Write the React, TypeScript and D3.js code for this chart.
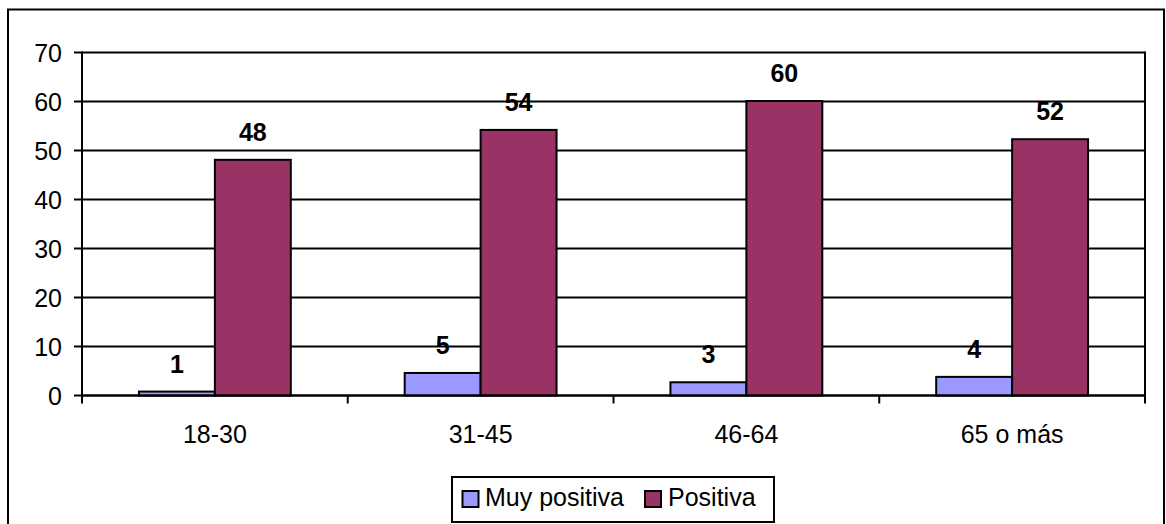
import React from "react";
import * as d3 from "d3";

const categories = ["18-30", "31-45", "46-64", "65 o más"];
const seriesNames = ["Muy positiva", "Positiva"];
const muyPositiva = [0.8, 4.6, 2.7, 3.8];
const positiva = [48.1, 54.2, 60.1, 52.3];
const yTicks = [0, 10, 20, 30, 40, 50, 60, 70];
const colors = ["#9999FF", "#993366"];

const W = 1166;
const H = 524;
const FONT = "'Liberation Sans', Arial, Helvetica, sans-serif";

export default function App() {
  const left = 82, right = 1145, top = 52.5, bottom = 395.5;
  const x = d3.scaleBand<string>().domain(categories).range([left, right]).paddingInner(0).paddingOuter(0);
  const y = d3.scaleLinear().domain([0, 70]).range([bottom, top]);
  const bw = x.bandwidth() / 3.5;
  const series = [muyPositiva, positiva];
  const fs = 25;

  return (
    <svg width={W} height={H} style={{ position: "absolute", left: 0, top: 0, background: "#fff" }} fontFamily={FONT}>
      <rect x={0} y={0} width={W} height={H} fill="#fff" />
      <rect x={8} y={9.5} width={1156} height={540} fill="none" stroke="#000" strokeWidth={2} />
      {/* gridlines */}
      {yTicks.map((t) => (
        <line key={"g" + t} x1={left} x2={right} y1={y(t)} y2={y(t)} stroke="#000" strokeWidth={2} />
      ))}
      {/* right border */}
      <line x1={right} x2={right} y1={top - 1} y2={bottom} stroke="#000" strokeWidth={2} />
      {/* bars */}
      {categories.map((c, i) =>
        series.map((s, j) => {
          const x0 = (x(c) as number) + bw * 0.75 + j * bw;
          return (
            <rect key={c + j} x={x0} y={y(s[i])} width={bw} height={y(0) - y(s[i])}
              fill={colors[j]} stroke="#000" strokeWidth={2} />
          );
        })
      )}
      {/* labels */}
      {categories.map((c, i) =>
        series.map((s, j) => {
          const x0 = (x(c) as number) + bw * 0.75 + j * bw + bw / 2;
          return (
            <text key={"l" + c + j} x={x0} y={y(s[i]) - 19} textAnchor="middle" fontSize={fs} fontWeight="bold">
              {d3.format(".0f")(s[i])}
            </text>
          );
        })
      )}
      {/* axes */}
      <line x1={left} x2={left} y1={top - 1} y2={bottom + 8} stroke="#000" strokeWidth={2} />
      <line x1={left} x2={right} y1={bottom} y2={bottom} stroke="#000" strokeWidth={2} />
      {yTicks.map((t) => (
        <g key={"t" + t}>
          <line x1={left - 8} x2={left} y1={y(t)} y2={y(t)} stroke="#000" strokeWidth={2} />
          <text x={62} y={y(t) + 9} textAnchor="end" fontSize={fs}>{t}</text>
        </g>
      ))}
      {categories.map((c, i) => (
        <line key={"xt" + i} x1={(x(c) as number) + x.bandwidth()} x2={(x(c) as number) + x.bandwidth()}
          y1={bottom} y2={bottom + 8} stroke="#000" strokeWidth={2} />
      ))}
      {categories.map((c) => (
        <text key={"xl" + c} x={(x(c) as number) + x.bandwidth() / 2} y={443} textAnchor="middle" fontSize={fs}>{c}</text>
      ))}
      {/* legend */}
      <rect x={452} y={477} width={322} height={45} fill="#fff" stroke="#000" strokeWidth={2} />
      <rect x={462.5} y={491} width={16} height={16} fill={colors[0]} stroke="#000" strokeWidth={2} />
      <text x={485} y={506} fontSize={fs}>{seriesNames[0]}</text>
      <rect x={645} y={491} width={16} height={16} fill={colors[1]} stroke="#000" strokeWidth={2} />
      <text x={668} y={506} fontSize={fs}>{seriesNames[1]}</text>
    </svg>
  );
}
